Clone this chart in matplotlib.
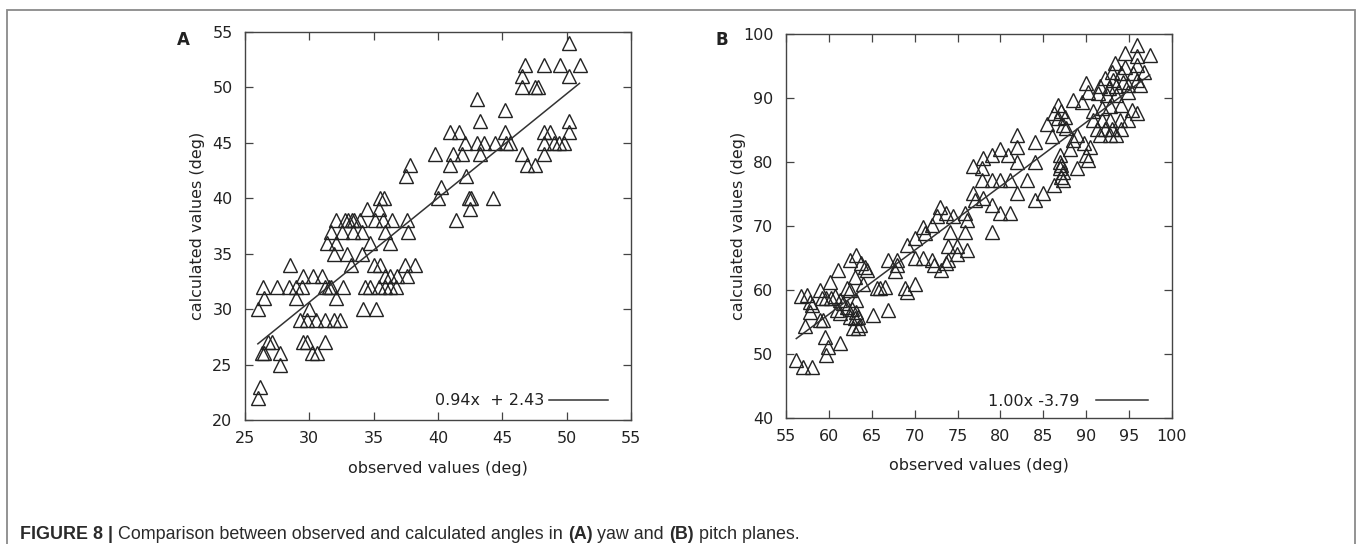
import numpy as np
import matplotlib.pyplot as plt
from matplotlib.patches import Rectangle

# panel A (yaw): observed vs calculated angles, deg
yaw_observed = [
    26.0, 26.2, 27.7,
    26.3, 26.5, 27.7, 30.2, 30.6,
    26.8, 27.1, 29.5, 29.8, 31.2,
    29.3, 29.8, 30.5, 31.2, 31.9, 32.4,
    26.0, 30.0, 34.2, 35.2,
    26.5, 29.0, 32.1,
    26.4, 27.5, 28.4, 29.0, 29.4, 31.2, 31.5, 31.7, 32.6, 34.3, 34.7, 35.4, 35.9, 36.3, 36.7,
    29.5, 30.3, 31.0, 35.9, 36.3, 36.8, 37.6,
    28.5, 33.2, 35.0, 35.5, 37.4, 38.2,
    31.9, 32.9, 34.1,
    31.4, 32.1, 34.7, 36.3,
    31.7, 32.5, 33.4, 34.1, 35.9, 37.7,
    32.1, 32.8, 33.0, 33.3, 33.5, 33.9, 35.1, 35.7, 36.4, 37.6, 41.4,
    34.5, 35.4, 42.5,
    35.5, 35.8, 40.0, 42.4, 42.6, 44.3,
    40.2,
    37.5, 42.2,
    37.8, 40.9, 46.9, 47.5,
    39.8, 41.2, 41.9, 43.3, 46.5, 48.2,
    42.1, 43.0, 43.6, 44.4, 45.3, 45.6, 48.2, 49.0, 49.4, 49.8,
    40.9, 41.6, 45.2, 48.2, 48.7, 50.2,
    43.3, 50.2,
    45.2,
    43.0,
    46.5, 47.5, 47.8,
    46.5, 50.2,
    46.8, 48.2, 49.5, 51.0,
    50.2,
]
yaw_calculated = [
    22, 23, 25,
    26, 26, 26, 26, 26,
    27, 27, 27, 27, 27,
    29, 29, 29, 29, 29, 29,
    30, 30, 30, 30,
    31, 31, 31,
    32, 32, 32, 32, 32, 32, 32, 32, 32, 32, 32, 32, 32, 32, 32,
    33, 33, 33, 33, 33, 33, 33,
    34, 34, 34, 34, 34, 34,
    35, 35, 35,
    36, 36, 36, 36,
    37, 37, 37, 37, 37, 37,
    38, 38, 38, 38, 38, 38, 38, 38, 38, 38, 38,
    39, 39, 39,
    40, 40, 40, 40, 40, 40,
    41,
    42, 42,
    43, 43, 43, 43,
    44, 44, 44, 44, 44, 44,
    45, 45, 45, 45, 45, 45, 45, 45, 45, 45,
    46, 46, 46, 46, 46, 46,
    47, 47,
    48,
    49,
    50, 50, 50,
    51, 51,
    52, 52, 52, 52,
    54,
]

# panel B (pitch)
pitch_observed = [
    56.2, 57.0, 58.0, 56.8, 57.4, 57.8, 58.0, 57.2, 57.8, 59.0, 59.2, 59.7, 60.3, 60.1,
    59.0, 59.3, 59.5, 59.9, 59.7, 61.3, 61.1, 62.5, 63.2, 63.8, 64.2, 64.4, 63.0, 64.0,
    62.1, 62.5, 61.3, 61.7, 60.7, 60.9, 61.3, 62.1, 62.7, 63.2, 63.2, 62.5, 63.0, 63.4,
    62.8, 63.4, 63.6, 65.2, 66.9, 65.6, 66.0, 66.5, 66.9, 67.9, 67.9, 67.7, 68.9, 69.1,
    70.0, 69.1, 70.0, 71.0, 71.2, 70.0, 71.0, 72.0, 72.2, 72.9, 73.1, 72.6, 73.7, 74.5,
    72.0, 74.1, 73.9, 74.9, 73.9, 74.9, 73.7,
    75.9, 76.1, 75.9, 76.1,
    81.9, 84.0, 79.9, 81.9, 79.0, 78.0, 76.8, 77.8, 80.9, 81.9, 84.0,
    77.8, 79.0, 79.9, 81.1, 83.1,
    76.8, 77.0, 78.0, 79.0, 79.9, 81.1, 81.9, 79.0,
    86.2, 85.0, 84.0, 87.3,
    95.9, 94.5, 95.9, 97.4, 93.3, 94.5, 95.9, 93.0, 94.1, 95.5, 96.7, 92.2, 93.1, 94.3,
    95.9, 90.0, 91.6, 92.6, 93.5, 94.9, 96.3, 90.2, 91.4, 92.4, 93.5, 94.9, 88.5, 89.5,
    86.7, 87.1, 86.2, 87.5, 86.7, 87.7, 87.3, 90.8, 91.8, 92.8, 94.1, 95.3, 95.9, 90.8,
    91.8, 92.8, 93.9, 94.9, 91.2, 92.2, 93.0, 94.0, 91.6, 92.8, 93.5, 88.9, 88.5, 89.7,
    90.4, 88.1, 90.0, 90.2, 86.0, 86.9, 86.9, 87.1, 86.9, 87.3, 87.1, 88.9, 85.4,
]
pitch_calculated = [
    49.1, 48.0, 48.0, 59.0, 59.2, 58.2, 57.7, 54.3, 56.6, 60.0, 58.7, 58.7, 58.7, 61.3,
    55.3, 55.3, 52.7, 51.1, 49.8, 51.7, 63.1, 64.7, 65.5, 64.2, 63.6, 63.1, 62.1, 61.0,
    60.3, 60.0, 58.4, 57.9, 59.0, 56.9, 56.4, 57.4, 57.1, 58.4, 56.6, 55.8, 55.6, 55.8,
    54.0, 54.0, 54.5, 56.1, 56.9, 60.3, 60.3, 60.5, 64.7, 64.7, 63.9, 62.9, 60.3, 59.7,
    61.0, 67.0, 68.1, 69.9, 68.9, 65.0, 65.0, 64.7, 63.9, 73.0, 63.1, 71.5, 72.0, 71.5,
    70.2, 69.1, 66.8, 66.8, 64.7, 65.7, 64.2,
    72.0, 70.9, 69.1, 66.3,
    84.2, 83.2, 82.1, 82.4, 81.1, 80.6, 79.3, 79.0, 81.1, 80.0, 80.0,
    77.2, 77.2, 77.2, 77.2, 77.2,
    75.1, 74.1, 74.3, 73.3, 72.0, 72.0, 75.1, 69.1,
    76.4, 75.1, 74.1, 77.2,
    98.3, 97.0, 96.5, 96.7, 95.4, 94.9, 95.2, 94.1, 93.9, 93.9, 94.1, 93.1, 92.8, 92.5,
    92.8, 92.3, 91.8, 91.5, 91.8, 92.0, 92.0, 91.0, 90.8, 90.5, 90.5, 91.0, 89.7, 89.4,
    88.9, 87.9, 87.6, 87.1, 86.8, 85.3, 85.8, 87.9, 88.4, 88.7, 88.9, 88.1, 87.6, 86.6,
    86.6, 86.6, 86.6, 86.6, 85.2, 85.2, 85.2, 85.2, 84.2, 84.2, 84.2, 84.2, 83.4, 82.9,
    82.4, 82.1, 81.1, 80.3, 84.0, 81.1, 80.0, 79.5, 79.0, 78.5, 77.7, 79.0, 86.0,
]

# linear fits printed in the keys
yaw_fit = (0.94, 2.43)
pitch_fit = (1.00, -3.79)
yaw_fit_label = "0.94x  + 2.43"
pitch_fit_label = "1.00x -3.79"

yaw_xticks = np.arange(25, 56, 5)
yaw_yticks = np.arange(20, 56, 5)
pitch_xticks = np.arange(55, 101, 5)
pitch_yticks = np.arange(40, 101, 10)

caption_parts = [
    ("FIGURE 8 |", "bold"),
    (" Comparison between observed and calculated angles in ", "normal"),
    ("(A)", "bold"),
    (" yaw and ", "normal"),
    ("(B)", "bold"),
    (" pitch planes.", "normal"),
]

W, H = 1357, 544
fig = plt.figure(figsize=(W / 100, H / 100), dpi=100)

ink = "#222222"
tick_fs = 11.5


def panel(rect, obs, calc, fit, label, xticks, yticks, key_anchor, key_len, key_pad):
    left, top, right, bottom = rect
    ax = fig.add_axes([left / W, 1 - bottom / H, (right - left) / W, (bottom - top) / H])
    ax.plot(obs, calc, linestyle="none", marker="^", ms=10,
            mfc="none", mec=ink, mew=1.0)
    xs = np.array([min(obs), max(obs)])
    fit_line, = ax.plot(xs, fit[0] * xs + fit[1], color="#333333", lw=1.1,
                        label=label)
    ax.set_xlim(xticks[0], xticks[-1])
    ax.set_ylim(yticks[0], yticks[-1])
    ax.set_xticks(xticks)
    ax.set_yticks(yticks)
    ax.tick_params(direction="in", top=True, right=True, length=6, width=0.9,
                   color="#444444", labelsize=tick_fs, labelcolor=ink)
    ax.tick_params(axis="y", pad=9)
    ax.tick_params(axis="x", pad=8)
    for s in ax.spines.values():
        s.set_color("#444444")
        s.set_linewidth(1.0)
    ax.set_xlabel("observed values (deg)", fontsize=tick_fs, color=ink)
    ax.set_ylabel("calculated values (deg)", fontsize=tick_fs, color=ink)
    ax.xaxis.set_label_coords(0.5, -0.105)
    ax.yaxis.set_label_coords(-0.104, 0.5)
    ax.legend(handles=[fit_line], loc="center right", bbox_to_anchor=key_anchor,
              frameon=False, markerfirst=False, borderpad=0, borderaxespad=0,
              handlelength=key_len, handletextpad=key_pad,
              prop={"size": tick_fs}, labelcolor=ink)
    return ax


ax_a = panel((245, 32, 631, 420), yaw_observed, yaw_calculated, yaw_fit, yaw_fit_label,
             yaw_xticks, yaw_yticks, (0.940, 0.049), 3.7, 0.3)
ax_b = panel((786, 34, 1172, 418), pitch_observed, pitch_calculated, pitch_fit,
             pitch_fit_label, pitch_xticks, pitch_yticks, (0.938, 0.044), 3.25, 1.05)

fig.text(183 / W, 1 - 40 / H, "A", fontsize=12, fontweight="bold", color=ink,
         ha="center", va="center")
fig.text(722 / W, 1 - 40 / H, "B", fontsize=12, fontweight="bold", color=ink,
         ha="center", va="center")

# grey frame around the figure
fig.add_artist(Rectangle((7 / W, -0.05), (1355 - 7) / W, 1.05 - 10 / H,
                         transform=fig.transFigure, fill=False,
                         ec="#8a8a8a", lw=1.3))

# caption, pieces chained one after the other
cap_fs = 12.9
cap_font = "Liberation Sans"
cap_color = "#2a2a2a"
first_txt, first_wt = caption_parts[0]
prev = fig.text(20 / W, 1 - 539 / H, first_txt, fontsize=cap_fs, fontweight=first_wt,
                family=cap_font, color=cap_color, va="baseline")
for txt, wt in caption_parts[1:]:
    prev = ax_a.annotate(txt, xy=(1, 0), xycoords=prev, va="bottom", ha="left",
                         fontsize=cap_fs, fontweight=wt, family=cap_font,
                         color=cap_color, annotation_clip=False)

plt.savefig("out.png", dpi=100)
